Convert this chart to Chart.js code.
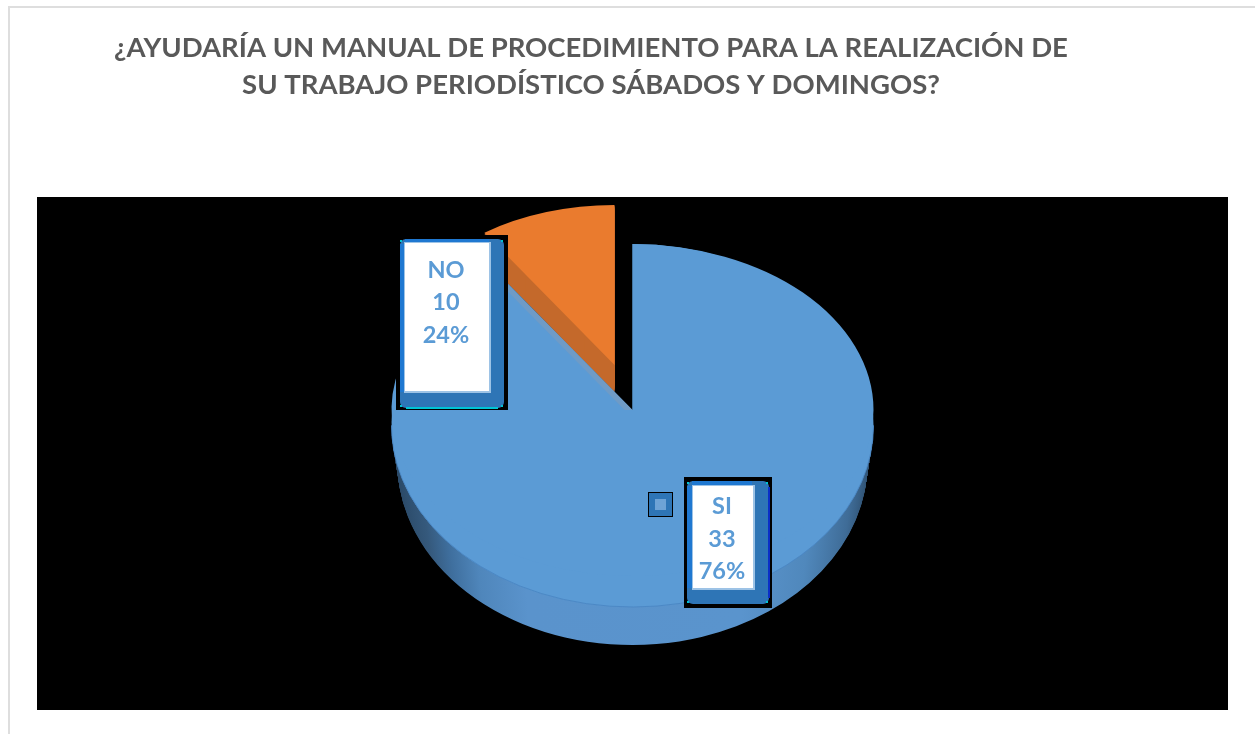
<!DOCTYPE html>
<html lang="es">
<head>
<meta charset="utf-8">
<style>html,body{margin:0;padding:0;background:#fff}canvas{display:block}</style>
<script src="https://cdn.jsdelivr.net/npm/chart.js@4/dist/chart.umd.min.js"></script>
</head>
<body>
<canvas id="c" width="1255" height="734"></canvas>
<script>
const titleLines = ['¿AYUDARÍA UN MANUAL DE PROCEDIMIENTO PARA LA REALIZACIÓN DE', 'SU TRABAJO PERIODÍSTICO SÁBADOS Y DOMINGOS?'];
const categories = ['SI', 'NO'];
const labelValues = ['33', '10'];
const labelPercents = ['76%', '24%'];
// Slice sizes as they appear in the picture (the drawn wedge is much narrower than its 24% label).
const drawnShares = [90.5, 9.5];

const BLUE = '#5b9bd5', BLUE_DK = '#2e75b6', ORANGE = '#ea7b2e', ORANGE_SIDE = '#c4692b';

function withFill(el, fill, border, fn) {
  const saved = el.options;
  el.options = Object.assign({}, saved, {backgroundColor: fill, borderColor: border || fill, borderWidth: border ? 1 : 0});
  fn();
  el.options = saved;
}
function place(ctx, el, cx, cy, sx, sy, dy) {
  ctx.save();
  ctx.translate(cx, cy + dy);
  ctx.scale(sx, sy);
  ctx.translate(-el.x, -el.y);
  el.draw(ctx);
  ctx.restore();
}
function clipRect(ctx, x, y, w, h) {
  ctx.beginPath();
  ctx.rect(x, y, w, h);
  ctx.clip();
}
function labelBox(ctx, i, o) {
  ctx.fillStyle = '#000';
  ctx.fillRect(o.bx, o.by, o.bw, o.bh);
  ctx.beginPath();
  ctx.roundRect(o.ox, o.oy, o.ow, o.oh, 6);
  ctx.fillStyle = BLUE_DK;
  ctx.fill();
  if (o.edge) {
    ctx.fillStyle = o.edge;
    ctx.fillRect(o.ox + o.ow - 1, o.oy + 6, 2, o.oh - 12);
  }
  ctx.fillStyle = '#1f78d1';
  ctx.fillRect(o.ox, o.oy + 5, o.ix - o.ox, o.ih);
  ctx.fillRect(o.ox + 5, o.oy, o.iw, o.iy - o.oy);
  ctx.fillStyle = '#00c4d4';
  if (o.base) ctx.fillRect(o.ox + 6, o.oy + o.oh - 1, o.ow - 12, 2);
  [[o.ox, o.oy + 1], [o.ox + o.ow - 3, o.oy + 1], [o.ox, o.oy + o.oh - 3], [o.ox + o.ow - 3, o.oy + o.oh - 3]]
    .forEach(p => ctx.fillRect(p[0], p[1], 2, 2));
  ctx.fillStyle = '#9dc3e6';
  ctx.fillRect(o.ix - 1, o.iy - 1, o.iw + 3, o.ih + 3);
  ctx.fillStyle = '#fff';
  ctx.fillRect(o.ix, o.iy, o.iw, o.ih);
  ctx.fillStyle = BLUE;
  ctx.font = 'bold 23.5px Lato';
  ctx.textAlign = 'center';
  ctx.textBaseline = 'alphabetic';
  ctx.fillText(categories[i], o.tx, o.ty[0]);
  ctx.fillText(labelValues[i], o.tx, o.ty[1]);
  ctx.fillText(labelPercents[i], o.tx, o.ty[2]);
}

const pie3d = {
  id: 'pie3d',
  afterLayout(chart) {
    chart.titleBlock.left = 0;
    chart.titleBlock.right = 1182;
  },
  beforeDraw(chart) {
    const ctx = chart.ctx;
    ctx.save();
    ctx.fillStyle = '#fff';
    ctx.fillRect(0, 0, 1255, 734);
    ctx.fillStyle = '#dedede';
    ctx.fillRect(8, 6, 1247, 2);
    ctx.fillRect(8, 6, 2, 728);
    ctx.fillStyle = '#000';
    ctx.fillRect(37, 197, 1191, 513);
    ctx.restore();
  },
  beforeDatasetsDraw(chart) {
    const ctx = chart.ctx;
    const [si, no] = chart.getDatasetMeta(0).data;
    const CX = 632.5, CY = 425.5, RY = 181.5 / 241;   // outer ellipse
    const AY = 410, AR = 166 / 241;                   // ellipse through the notch apex

    // exploded orange slice: side, then top
    withFill(no, ORANGE_SIDE, null, () => {
      for (let d = 27; d > 0; d--) place(ctx, no, 614.5, 365, 0.96, 0.664, d);
    });
    place(ctx, no, 614.5, 365, 0.96, 0.664, 0);

    // blue side wall, lower half only, narrowing with depth
    const g = ctx.createLinearGradient(391, 0, 874, 0);
    [[0, '#2b4a68'], [0.06, '#35597c'], [0.11, '#3f6f9e'], [0.17, '#4f86bb'], [0.27, '#5a93cc'],
     [0.72, '#5a94cd'], [0.85, '#5088bc'], [0.94, '#3f6c97'], [1, '#2b4a68']]
      .forEach(s => g.addColorStop(s[0], s[1]));
    ctx.save();
    clipRect(ctx, 0, CY, 1255, 734);
    withFill(si, g, null, () => {
      for (let d = 38; d > 0; d--) place(ctx, si, CX, CY, 1 - 0.025 * d / 38, RY, d);
    });
    ctx.restore();

    // blue top surface
    place(ctx, si, CX, CY, 1, RY, 0);
    ctx.save();
    clipRect(ctx, 0, CY, 1255, 734);
    withFill(si, BLUE, '#4a86c2', () => place(ctx, si, CX, CY, 1, RY, 0));
    ctx.restore();
    place(ctx, si, CX, AY, 1, AR, 0);

    // faint band along the notch edge
    ctx.save();
    clipRect(ctx, 505, 280, 127, AY - 280);
    withFill(si, '#6f9bc6', null, () => place(ctx, si, CX, AY, 1, AR, 0));
    place(ctx, si, CX, AY, 1, AR, 8);
    ctx.restore();

    // small leftover legend key
    ctx.fillStyle = '#000';
    ctx.fillRect(648, 492, 25, 25);
    ctx.fillStyle = BLUE_DK;
    ctx.fillRect(649, 493, 23, 23);
    ctx.fillStyle = '#6ea3d6';
    ctx.fillRect(655, 499, 11, 11);

    labelBox(ctx, 1, {bx: 396, by: 235, bw: 112, bh: 175, ox: 400, oy: 239, ow: 104, oh: 169,
      ix: 405, iy: 243, iw: 84, ih: 148, tx: 446, ty: [278, 310, 343], base: true});
    labelBox(ctx, 0, {bx: 684, by: 477, bw: 88, bh: 131, ox: 687, oy: 481, ow: 82, oh: 123,
      ix: 693, iy: 486, iw: 60, ih: 102, tx: 722, ty: [514, 547, 579], edge: '#0a2fc8'});
    return false;
  }
};

new Chart(document.getElementById('c'), {
  type: 'pie',
  data: {
    labels: categories,
    datasets: [{
      data: drawnShares,
      backgroundColor: [BLUE, ORANGE],
      borderWidth: 0,
      radius: 241
    }]
  },
  options: {
    responsive: false,
    animation: false,
    plugins: {
      legend: {display: false},
      tooltip: {enabled: false},
      title: {
        display: true,
        text: titleLines,
        color: '#595959',
        font: {family: 'Lato', weight: 'bold', size: 27.5, lineHeight: 1.345},
        padding: {top: 30, bottom: 10}
      }
    }
  },
  plugins: [pie3d]
});
</script>
</body>
</html>
